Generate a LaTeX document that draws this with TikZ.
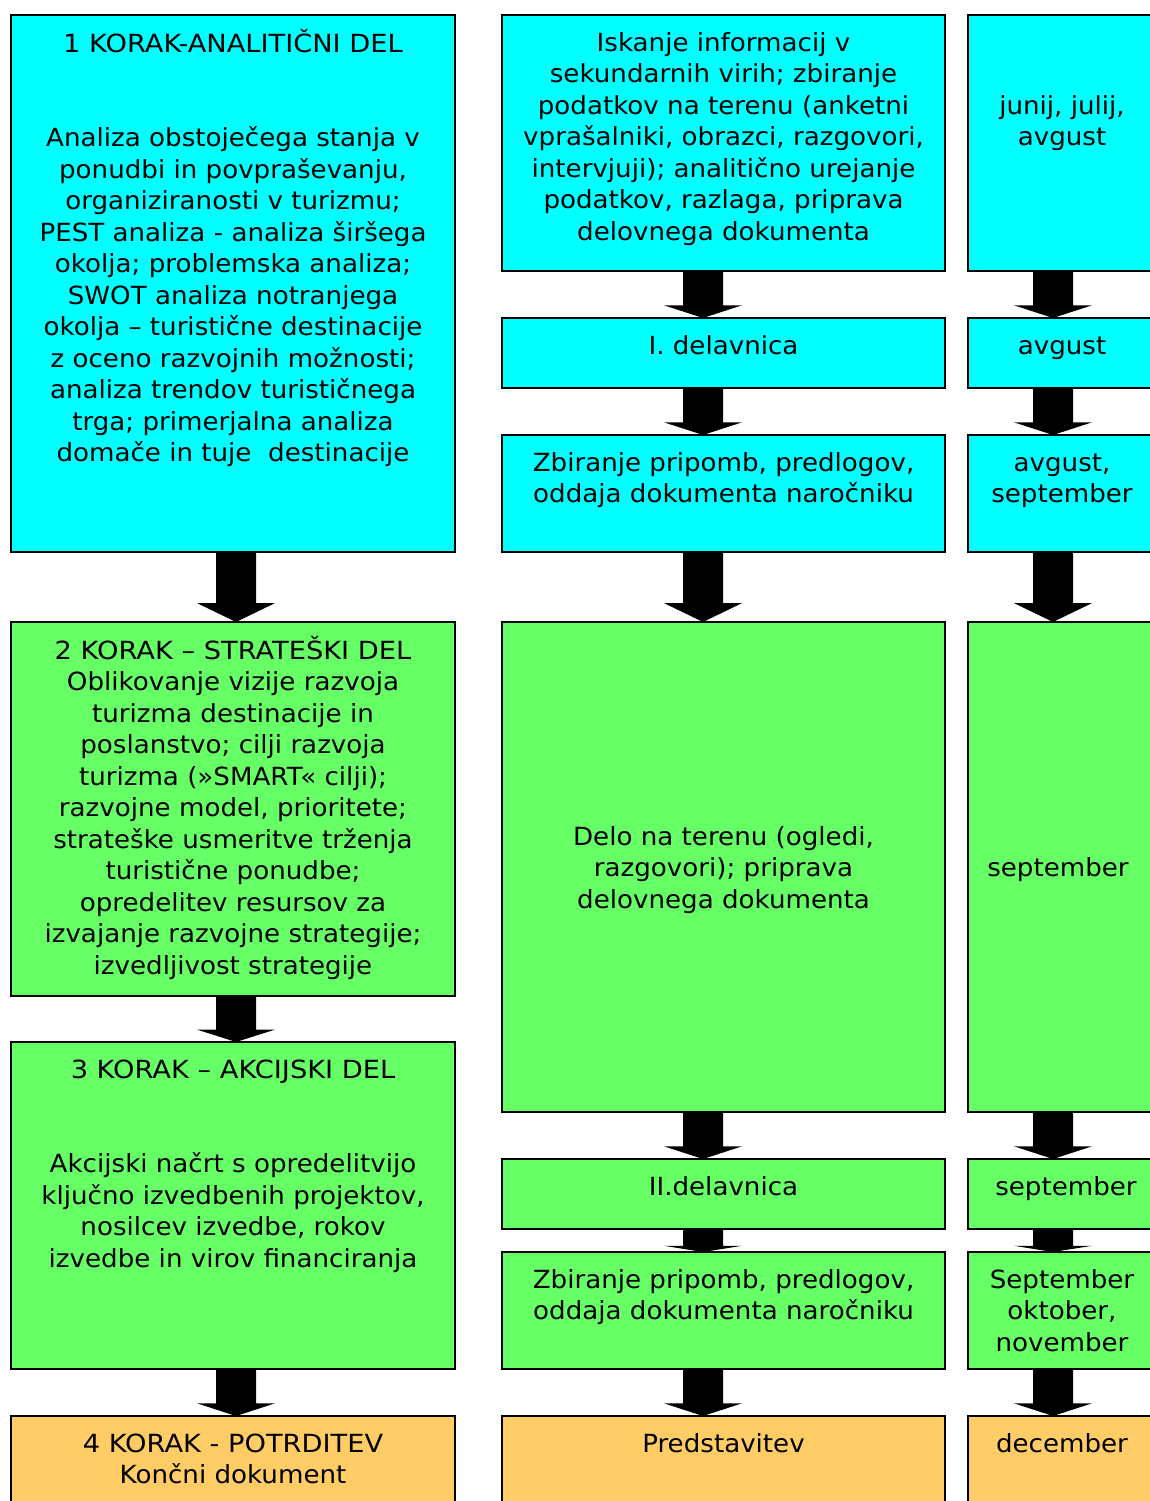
\documentclass[tikz,border=0pt]{standalone}
\usepackage{fontspec}
\setmainfont{DejaVu Sans}[FakeStretch=1.045]
\newfontfamily\capsfont{DejaVu Sans}[FakeStretch=1.09]
\usetikzlibrary{calc}
\definecolor{cyanA}{RGB}{0,255,255}
\definecolor{greenA}{RGB}{102,255,102}
\definecolor{orangeA}{RGB}{255,204,102}
\tikzset{
  box/.style={draw=black, line width=1.5pt, anchor=north west, inner sep=0pt, outer sep=0pt},
  txt/.style={align=center, inner sep=0pt, anchor=north, font=\fontsize{25}{31.5}\selectfont, text=black},
}
\newcommand\barrow[3]{%
  \fill[black] let \p1=(#1.south), \p2=(#2.north), \n1={(\y1-\y2)*0.27} in
    (#3-20,\y1) -- (#3+20,\y1) -- (#3+20,\y2+\n1) -- (#3+39,\y2+\n1) -- (#3,\y2)
    -- (#3-39,\y2+\n1) -- (#3-20,\y2+\n1) -- cycle;}
\begin{document}
\begin{tikzpicture}[x=1pt,y=1pt]
\useasboundingbox (0,0) rectangle (1149,-1501);
\fill[white] (0,0) rectangle (1149,-1501);
% left column
\node[box, fill=cyanA, minimum width=444, minimum height=537] (b1) at (11,-15) {};
\node[box, fill=greenA, minimum width=444, minimum height=374] (b2) at (11,-622) {};
\node[box, fill=greenA, minimum width=444, minimum height=327] (b3) at (11,-1042) {};
\node[box, fill=orangeA, minimum width=444, minimum height=110] (b4) at (11,-1416) {};
% middle column
\node[box, fill=cyanA, minimum width=443, minimum height=256] (ma) at (502,-15) {};
\node[box, fill=cyanA, minimum width=443, minimum height=70] (mb) at (502,-318) {};
\node[box, fill=cyanA, minimum width=443, minimum height=117] (mc) at (502,-435) {};
\node[box, fill=greenA, minimum width=443, minimum height=490] (md) at (502,-622) {};
\node[box, fill=greenA, minimum width=443, minimum height=70] (me) at (502,-1159) {};
\node[box, fill=greenA, minimum width=443, minimum height=117] (mf) at (502,-1252) {};
\node[box, fill=orangeA, minimum width=443, minimum height=110] (mg) at (502,-1416) {};
% right column
\node[box, fill=cyanA, minimum width=189, minimum height=256] (ra) at (968,-15) {};
\node[box, fill=cyanA, minimum width=189, minimum height=70] (rb) at (968,-318) {};
\node[box, fill=cyanA, minimum width=189, minimum height=117] (rc) at (968,-435) {};
\node[box, fill=greenA, minimum width=189, minimum height=490] (rd) at (968,-622) {};
\node[box, fill=greenA, minimum width=189, minimum height=70] (re) at (968,-1159) {};
\node[box, fill=greenA, minimum width=189, minimum height=117] (rf) at (968,-1252) {};
\node[box, fill=orangeA, minimum width=189, minimum height=110] (rg) at (968,-1416) {};
% texts
\node[txt] (t1) at (233,-29) {\strut {\capsfont 1 KORAK-ANALITIČNI DEL}\\[63pt]
Analiza obstoječega stanja v\\ ponudbi in povpraševanju,\\ organiziranosti v turizmu;\\
PEST analiza - analiza širšega\\ okolja; problemska analiza;\\ SWOT analiza notranjega\\
okolja – turistične destinacije\\ z oceno razvojnih možnosti;\\ analiza trendov turističnega\\
trga; primerjalna analiza\\ domače in tuje\ \ destinacije};
\node[txt] (t2) at (233,-636) {\strut {\capsfont 2 KORAK – STRATEŠKI DEL}\\ Oblikovanje vizije razvoja\\
turizma destinacije in\\ poslanstvo; cilji razvoja\\ turizma (»SMART« cilji);\\
razvojne model, prioritete;\\ strateške usmeritve trženja\\ turistične ponudbe;\\
opredelitev resursov za\\ izvajanje razvojne strategije;\\ izvedljivost strategije};
\node[txt] (t3) at (233,-1056) {\strut {\capsfont 3 KORAK – AKCIJSKI DEL}\\[63pt]
Akcijski načrt s opredelitvijo\\ ključno izvedbenih projektov,\\ nosilcev izvedbe, rokov\\
izvedbe in virov financiranja};
\node[txt] (t4) at (233,-1430) {\strut {\capsfont 4 KORAK - POTRDITEV}\\ Končni dokument};
\node[txt] (ta) at (723.5,-29) {\strut Iskanje informacij v\\ sekundarnih virih; zbiranje\\
podatkov na terenu (anketni\\ vprašalniki, obrazci, razgovori,\\ intervjuji); analitično urejanje\\
podatkov, razlaga, priprava\\ delovnega dokumenta};
\node[txt] (tb) at (723.5,-332) {\strut I. delavnica};
\node[txt] (tc) at (723.5,-449) {\strut Zbiranje pripomb, predlogov,\\ oddaja dokumenta naročniku};
\node[txt, anchor=center] (td) at (723.5,-870) {Delo na terenu (ogledi,\\ razgovori); priprava\\ delovnega dokumenta};
\node[txt] (te) at (723.5,-1173) {\strut II.delavnica};
\node[txt] (tf) at (723.5,-1266) {\strut Zbiranje pripomb, predlogov,\\ oddaja dokumenta naročniku};
\node[txt] (tg) at (723.5,-1430) {\strut Predstavitev};
\node[txt] (ua) at (1062,-92) {\strut junij, julij,\\ avgust};
\node[txt] (ub) at (1062,-332) {\strut avgust};
\node[txt] (uc) at (1062,-449) {\strut avgust,\\ september};
\node[txt, anchor=center] (ud) at (1058,-870) {september};
\node[txt] (ue) at (1066,-1173) {\strut september};
\node[txt] (uf) at (1062,-1266) {\strut September\\ oktober,\\ november};
\node[txt] (ug) at (1062,-1430) {\strut december};
% arrows
\barrow{b1}{b2}{236}
\barrow{b2}{b3}{236}
\barrow{b3}{b4}{236}
\barrow{ma}{mb}{703}
\barrow{mb}{mc}{703}
\barrow{mc}{md}{703}
\barrow{md}{me}{703}
\barrow{me}{mf}{703}
\barrow{mf}{mg}{703}
\barrow{ra}{rb}{1053}
\barrow{rb}{rc}{1053}
\barrow{rc}{rd}{1053}
\barrow{rd}{re}{1053}
\barrow{re}{rf}{1053}
\barrow{rf}{rg}{1053}
\end{tikzpicture}
\end{document}
